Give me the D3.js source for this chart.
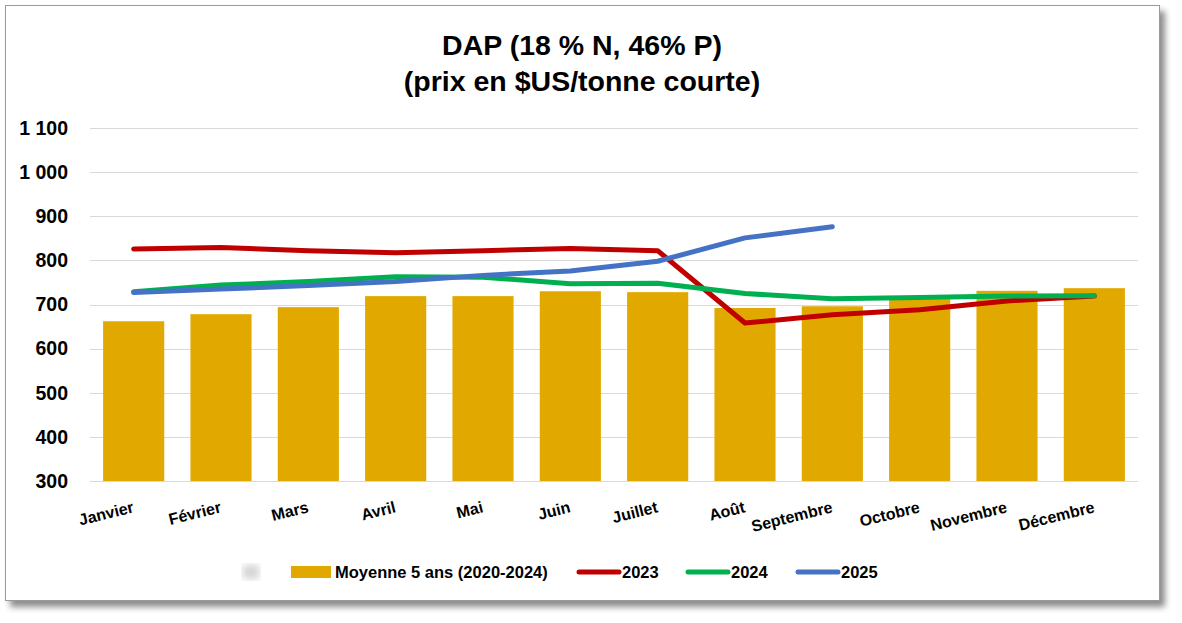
<!DOCTYPE html>
<html>
<head>
<meta charset="utf-8">
<script src="https://cdn.jsdelivr.net/npm/d3@7"></script>
<style>
    html, body { margin: 0; padding: 0; background: #ffffff; }
    svg { display: block; font-family: 'Liberation Sans', Arial, sans-serif; }
</style>
</head>
<body>
<div id="chart"></div>
<script>
// data
var months = ['Janvier', 'Février', 'Mars', 'Avril', 'Mai', 'Juin', 'Juillet', 'Août',
    'Septembre', 'Octobre', 'Novembre', 'Décembre'];
var avg5 = [662, 678, 694, 719, 719, 730, 728, 692, 696, 712, 731, 737];
var y2023 = [826, 829, 822, 817, 822, 827, 822, 658, 677, 688, 708, 719];
var y2024 = [729, 744, 752, 763, 762, 747, 748, 725, 713, 716, 719, 720];
var y2025 = [727, 735, 743, 752, 766, 776, 798, 851, 876];
var yTicks = [300, 400, 500, 600, 700, 800, 900, 1000, 1100];
var titleLines = ['DAP (18 % N, 46% P)', '(prix en $US/tonne courte)'];

var series = [
    {label: '2023', values: y2023, color: '#c00000'},
    {label: '2024', values: y2024, color: '#00b050'},
    {label: '2025', values: y2025, color: '#4472c4'}
];
var barColor = '#e1a900';

var width = 1182, height = 623,
    plot = {left: 90, right: 1138, top: 128, bottom: 481};

var svg = d3.select('#chart').append('svg')
    .attr('width', width)
    .attr('height', height);

// frame with drop shadow
var defs = svg.append('defs');
var shadow = defs.append('filter').attr('id', 'shadow')
    .attr('x', '-5%').attr('y', '-5%').attr('width', '110%').attr('height', '112%');
shadow.append('feDropShadow')
    .attr('dx', 5).attr('dy', 6).attr('stdDeviation', 3)
    .attr('flood-color', '#000').attr('flood-opacity', 0.45);
var blur = defs.append('filter').attr('id', 'blur');
blur.append('feGaussianBlur').attr('stdDeviation', 3);

svg.append('rect')
    .attr('x', 5.5).attr('y', 5.5)
    .attr('width', 1154).attr('height', 595)
    .attr('fill', '#ffffff')
    .attr('stroke', '#9a9a9a')
    .attr('stroke-width', 1)
    .attr('filter', 'url(#shadow)');

// title
svg.append('g').selectAll('text')
    .data(titleLines)
    .enter().append('text')
    .attr('x', 582)
    .attr('y', function (d, i) { return 55 + i * 36; })
    .attr('text-anchor', 'middle')
    .attr('font-size', 28.5)
    .attr('font-weight', 'bold')
    .attr('fill', '#000')
    .text(function (d) { return d; });

var x = d3.scaleBand()
    .domain(months)
    .range([plot.left, plot.right])
    .paddingInner(0.3)
    .paddingOuter(0.15);

var y = d3.scaleLinear()
    .domain([300, 1100])
    .range([plot.bottom, plot.top]);

var fmt = function (v) {
    return d3.format(',')(v).replace(',', ' ');
};

// gridlines
svg.append('g').selectAll('line')
    .data(yTicks)
    .enter().append('line')
    .attr('x1', plot.left).attr('x2', plot.right)
    .attr('y1', function (d) { return Math.round(y(d)) + 0.5; })
    .attr('y2', function (d) { return Math.round(y(d)) + 0.5; })
    .attr('stroke', '#d9d9d9')
    .attr('stroke-width', 1);

// y axis labels
var yAxis = d3.axisLeft(y)
    .tickValues(yTicks)
    .tickFormat(fmt)
    .tickSize(0)
    .tickPadding(22);
var yg = svg.append('g')
    .attr('transform', 'translate(' + plot.left + ',0)')
    .call(yAxis);
yg.select('.domain').remove();
yg.selectAll('text')
    .attr('font-size', 19.5)
    .attr('font-weight', 'bold')
    .attr('font-family', "'Liberation Sans', Arial, sans-serif")
    .attr('fill', '#000');

// bars
svg.append('g').selectAll('rect')
    .data(avg5)
    .enter().append('rect')
    .attr('x', function (d, i) { return x(months[i]); })
    .attr('y', function (d) { return y(d); })
    .attr('width', x.bandwidth())
    .attr('height', function (d) { return y(300) - y(d); })
    .attr('fill', barColor);

// lines
var line = d3.line()
    .x(function (d, i) { return x(months[i]) + x.bandwidth() / 2; })
    .y(function (d) { return y(d); });

svg.append('g').selectAll('path')
    .data(series)
    .enter().append('path')
    .attr('d', function (s) { return line(s.values); })
    .attr('fill', 'none')
    .attr('stroke', function (s) { return s.color; })
    .attr('stroke-width', 5)
    .attr('stroke-linecap', 'round')
    .attr('stroke-linejoin', 'round');

// x axis labels, rotated
var xAxis = d3.axisBottom(x).tickSize(0).tickPadding(0);
var xg = svg.append('g')
    .attr('transform', 'translate(0,' + plot.bottom + ')')
    .call(xAxis);
xg.select('.domain').remove();
xg.selectAll('.tick text')
    .attr('font-size', 16)
    .attr('font-weight', 'bold')
    .attr('font-family', "'Liberation Sans', Arial, sans-serif")
    .attr('fill', '#000')
    .attr('text-anchor', 'end')
    .attr('dy', null)
    .attr('x', 0)
    .attr('y', 0)
    .attr('transform', 'translate(1,31) rotate(-14)');

// legend
var legendY = 572;
var legend = svg.append('g');
legend.append('rect')
    .attr('x', 243).attr('y', legendY - 7)
    .attr('width', 16).attr('height', 14)
    .attr('fill', '#bbbbbb')
    .attr('opacity', 0.6)
    .attr('filter', 'url(#blur)');
legend.append('rect')
    .attr('x', 291).attr('y', legendY - 6)
    .attr('width', 40).attr('height', 12)
    .attr('fill', barColor);
legend.append('text')
    .attr('x', 335).attr('y', legendY + 6)
    .attr('font-size', 16.5).attr('font-weight', 'bold')
    .text('Moyenne 5 ans (2020-2024)');

var legendX = [579, 688, 798];
series.forEach(function (s, i) {
    legend.append('line')
        .attr('x1', legendX[i]).attr('x2', legendX[i] + 40)
        .attr('y1', legendY).attr('y2', legendY)
        .attr('stroke', s.color)
        .attr('stroke-width', 5)
        .attr('stroke-linecap', 'round');
    legend.append('text')
        .attr('x', legendX[i] + 43).attr('y', legendY + 6)
        .attr('font-size', 16.5).attr('font-weight', 'bold')
        .text(s.label);
});
</script>
</body>
</html>
